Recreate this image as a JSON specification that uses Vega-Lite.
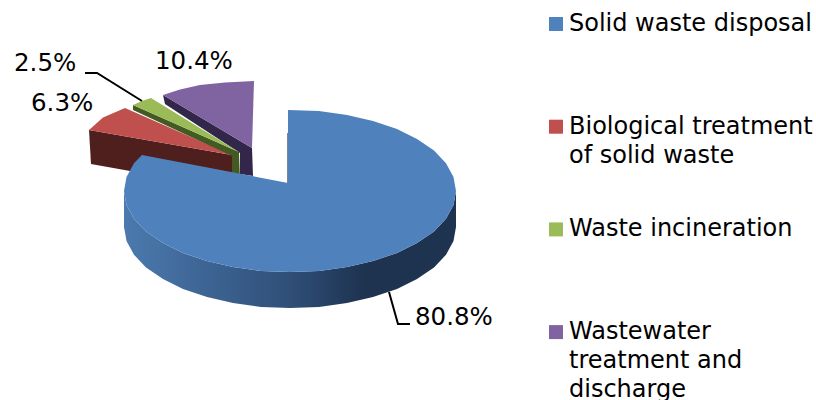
{
  "$schema": "https://vega.github.io/schema/vega-lite/v6.json",
  "width": 816,
  "height": 400,
  "padding": 0,
  "autosize": {"type": "fit", "contains": "padding"},
  "background": "white",
  "view": {"stroke": null},
  "config": {"font": "DejaVu Sans"},
  "datasets": {
    "shares": [
      {"share": 0.808, "x": 125, "y": -127},
      {"share": 0.063, "x": -259, "y": 87},
      {"share": 0.025, "x": -276, "y": 127},
      {"share": 0.104, "x": -135, "y": 129}
    ],
    "leaders": [
      {"leader": "incineration", "i": 0, "x": -205, "y": 118},
      {"leader": "incineration", "i": 1, "x": -193, "y": 118},
      {"leader": "incineration", "i": 2, "x": -148, "y": 90},
      {"leader": "disposal", "i": 0, "x": 99, "y": -101},
      {"leader": "disposal", "i": 1, "x": 108, "y": -133},
      {"leader": "disposal", "i": 2, "x": 120, "y": -133}
    ],
    "innerEdge": [
      {"i": 0, "x": -2.5, "y": 58},
      {"i": 1, "x": -2.5, "y": 8}
    ],
    "rearFaces": [
      {"part": "Wastewater side", "i": 0, "x": -127, "y": 96},
      {"part": "Wastewater side", "i": 1, "x": -38, "y": 43},
      {"part": "Wastewater side", "i": 2, "x": -37, "y": 15},
      {"part": "Wastewater side", "i": 3, "x": -50, "y": 17},
      {"part": "Wastewater side", "i": 4, "x": -50, "y": 38},
      {"part": "Wastewater side", "i": 5, "x": -125, "y": 87},
      {"part": "Wastewater treatment and discharge", "i": 0, "x": -127, "y": 96},
      {"part": "Wastewater treatment and discharge", "i": 1, "x": -110, "y": 101.5},
      {"part": "Wastewater treatment and discharge", "i": 2, "x": -90, "y": 106},
      {"part": "Wastewater treatment and discharge", "i": 3, "x": -65, "y": 108.5},
      {"part": "Wastewater treatment and discharge", "i": 4, "x": -36, "y": 110},
      {"part": "Wastewater treatment and discharge", "i": 5, "x": -38, "y": 43},
      {"part": "Biological side", "i": 0, "x": -201, "y": 61},
      {"part": "Biological side", "i": 1, "x": -199, "y": 27},
      {"part": "Biological side", "i": 2, "x": -160, "y": 20},
      {"part": "Biological side", "i": 3, "x": -58, "y": 6},
      {"part": "Biological side", "i": 4, "x": -58, "y": 36},
      {"part": "Biological treatment of solid waste", "i": 0, "x": -201, "y": 61},
      {"part": "Biological treatment of solid waste", "i": 1, "x": -187, "y": 73.5},
      {"part": "Biological treatment of solid waste", "i": 2, "x": -165, "y": 83},
      {"part": "Biological treatment of solid waste", "i": 3, "x": -58, "y": 36},
      {"part": "Incineration side", "i": 0, "x": -157, "y": 86},
      {"part": "Incineration side", "i": 1, "x": -157, "y": 81},
      {"part": "Incineration side", "i": 2, "x": -58, "y": 35},
      {"part": "Incineration side", "i": 3, "x": -58, "y": 11},
      {"part": "Incineration side", "i": 4, "x": -50, "y": 11},
      {"part": "Incineration side", "i": 5, "x": -51, "y": 39},
      {"part": "Waste incineration", "i": 0, "x": -157, "y": 86},
      {"part": "Waste incineration", "i": 1, "x": -148, "y": 90},
      {"part": "Waste incineration", "i": 2, "x": -139, "y": 93},
      {"part": "Waste incineration", "i": 3, "x": -51, "y": 39}
    ],
    "disposalWall": [
      {"i": 0, "x": 166, "y": 0}, {"i": 1, "x": 163.5, "y": -14}, {"i": 2, "x": 156, "y": -27.7}, {"i": 3, "x": 144, "y": -40.5},
      {"i": 4, "x": 127, "y": -52}, {"i": 5, "x": 107, "y": -62}, {"i": 6, "x": 83, "y": -70}, {"i": 7, "x": 57, "y": -76},
      {"i": 8, "x": 29, "y": -80}, {"i": 9, "x": 0, "y": -81}, {"i": 10, "x": -29, "y": -80}, {"i": 11, "x": -57, "y": -76},
      {"i": 12, "x": -83, "y": -70}, {"i": 13, "x": -107, "y": -62}, {"i": 14, "x": -127, "y": -52}, {"i": 15, "x": -144, "y": -40.5},
      {"i": 16, "x": -156, "y": -27.7}, {"i": 17, "x": -163.5, "y": -14}, {"i": 18, "x": -166, "y": 0},
      {"i": 19, "x": -166, "y": -36}, {"i": 20, "x": -163.5, "y": -50}, {"i": 21, "x": -156, "y": -63.7}, {"i": 22, "x": -144, "y": -76.5},
      {"i": 23, "x": -127, "y": -88}, {"i": 24, "x": -107, "y": -98}, {"i": 25, "x": -83, "y": -106}, {"i": 26, "x": -57, "y": -112},
      {"i": 27, "x": -29, "y": -116}, {"i": 28, "x": 0, "y": -117}, {"i": 29, "x": 29, "y": -116}, {"i": 30, "x": 57, "y": -112},
      {"i": 31, "x": 83, "y": -106}, {"i": 32, "x": 107, "y": -98}, {"i": 33, "x": 127, "y": -88}, {"i": 34, "x": 144, "y": -76.5},
      {"i": 35, "x": 156, "y": -63.7}, {"i": 36, "x": 163.5, "y": -50}, {"i": 37, "x": 166, "y": -36}
    ],
    "disposalTop": [
      {"part": "Solid waste disposal", "i": 0, "x": -2, "y": 8}, {"part": "Solid waste disposal", "i": 1, "x": -2, "y": 81},
      {"part": "Solid waste disposal", "i": 2, "x": 29, "y": 80}, {"part": "Solid waste disposal", "i": 3, "x": 57, "y": 76},
      {"part": "Solid waste disposal", "i": 4, "x": 83, "y": 70}, {"part": "Solid waste disposal", "i": 5, "x": 107, "y": 62},
      {"part": "Solid waste disposal", "i": 6, "x": 127, "y": 52}, {"part": "Solid waste disposal", "i": 7, "x": 144, "y": 40.5},
      {"part": "Solid waste disposal", "i": 8, "x": 156, "y": 27.7}, {"part": "Solid waste disposal", "i": 9, "x": 163.5, "y": 14},
      {"part": "Solid waste disposal", "i": 10, "x": 166, "y": 0}, {"part": "Solid waste disposal", "i": 11, "x": 163.5, "y": -14},
      {"part": "Solid waste disposal", "i": 12, "x": 156, "y": -27.7}, {"part": "Solid waste disposal", "i": 13, "x": 144, "y": -40.5},
      {"part": "Solid waste disposal", "i": 14, "x": 127, "y": -52}, {"part": "Solid waste disposal", "i": 15, "x": 107, "y": -62},
      {"part": "Solid waste disposal", "i": 16, "x": 83, "y": -70}, {"part": "Solid waste disposal", "i": 17, "x": 57, "y": -76},
      {"part": "Solid waste disposal", "i": 18, "x": 29, "y": -80}, {"part": "Solid waste disposal", "i": 19, "x": 0, "y": -81},
      {"part": "Solid waste disposal", "i": 20, "x": -29, "y": -80}, {"part": "Solid waste disposal", "i": 21, "x": -57, "y": -76},
      {"part": "Solid waste disposal", "i": 22, "x": -83, "y": -70}, {"part": "Solid waste disposal", "i": 23, "x": -107, "y": -62},
      {"part": "Solid waste disposal", "i": 24, "x": -127, "y": -52}, {"part": "Solid waste disposal", "i": 25, "x": -144, "y": -40.5},
      {"part": "Solid waste disposal", "i": 26, "x": -156, "y": -27.7}, {"part": "Solid waste disposal", "i": 27, "x": -163.5, "y": -14},
      {"part": "Solid waste disposal", "i": 28, "x": -166, "y": 0}, {"part": "Solid waste disposal", "i": 29, "x": -163.5, "y": 14},
      {"part": "Solid waste disposal", "i": 30, "x": -156, "y": 27.7}, {"part": "Solid waste disposal", "i": 31, "x": -148, "y": 36}
    ]
  },
  "encoding": {
    "x": {"field": "x", "type": "quantitative", "axis": null, "scale": {"domain": [-290, 526], "nice": false, "zero": false}},
    "y": {"field": "y", "type": "quantitative", "axis": null, "scale": {"domain": [-209, 191], "nice": false, "zero": false}}
  },
  "layer": [
    {
      "data": {"name": "rearFaces"},
      "mark": {"type": "line", "strokeWidth": 0},
      "encoding": {
        "order": {"field": "i", "type": "quantitative"},
        "fill": {
          "field": "part",
          "type": "nominal",
          "sort": null,
          "scale": {
            "domain": [
              "Wastewater side",
              "Wastewater treatment and discharge",
              "Biological side",
              "Biological treatment of solid waste",
              "Incineration side",
              "Waste incineration",
              "Solid waste disposal"
            ],
            "range": ["#32274a", "#8064a2", "#4f1f1e", "#c0504d", "#435a23", "#9bbb59", "#4f81bd"]
          },
          "legend": {
            "title": null,
            "orient": "none",
            "legendX": 544,
            "legendY": 12,
            "values": [
              "Solid waste disposal",
              "Biological treatment of solid waste",
              "Waste incineration",
              "Wastewater treatment and discharge"
            ],
            "symbolType": "square",
            "symbolSize": 196,
            "symbolStrokeWidth": 0,
            "labelFontSize": 24,
            "labelFont": "DejaVu Sans",
            "labelColor": "black",
            "labelOffset": 1,
            "labelLimit": 300,
            "labelBaseline": "middle",
            "rowPadding": 20.7,
            "gridAlign": "all",
            "labelExpr": "datum.label == 'Biological treatment of solid waste' ? ['Biological treatment', 'of solid waste'] : datum.label == 'Wastewater treatment and discharge' ? ['Wastewater', 'treatment and', 'discharge'] : datum.label",
            "encoding": {"labels": {"lineHeight": {"value": 29}}}
          }
        }
      }
    },
    {
      "data": {"name": "innerEdge"},
      "mark": {"type": "line", "stroke": "#1e3350", "strokeWidth": 1, "opacity": 0.6},
      "encoding": {"order": {"field": "i", "type": "quantitative"}}
    },
    {
      "data": {"name": "disposalWall"},
      "mark": {
        "type": "line",
        "strokeWidth": 0,
        "fill": {
          "x1": 0, "x2": 1, "y1": 0, "y2": 0,
          "gradient": "linear",
          "stops": [
            {"offset": 0, "color": "#4b7aaf"},
            {"offset": 0.5, "color": "#2f4f77"},
            {"offset": 0.72, "color": "#1e3350"},
            {"offset": 1, "color": "#1e3350"}
          ]
        }
      },
      "encoding": {"order": {"field": "i", "type": "quantitative"}}
    },
    {
      "data": {"name": "disposalTop"},
      "mark": {"type": "line", "strokeWidth": 0},
      "encoding": {"order": {"field": "i", "type": "quantitative"}, "fill": {"field": "part", "type": "nominal"}}
    },
    {
      "data": {"name": "leaders"},
      "mark": {"type": "line", "stroke": "black", "strokeWidth": 2},
      "encoding": {"order": {"field": "i", "type": "quantitative"}, "detail": {"field": "leader"}}
    },
    {
      "data": {"name": "shares"},
      "mark": {"type": "text", "align": "left", "baseline": "middle", "fontSize": 24.5, "font": "DejaVu Sans", "color": "black"},
      "encoding": {"text": {"field": "share", "type": "quantitative", "format": ".1%"}}
    }
  ]
}
